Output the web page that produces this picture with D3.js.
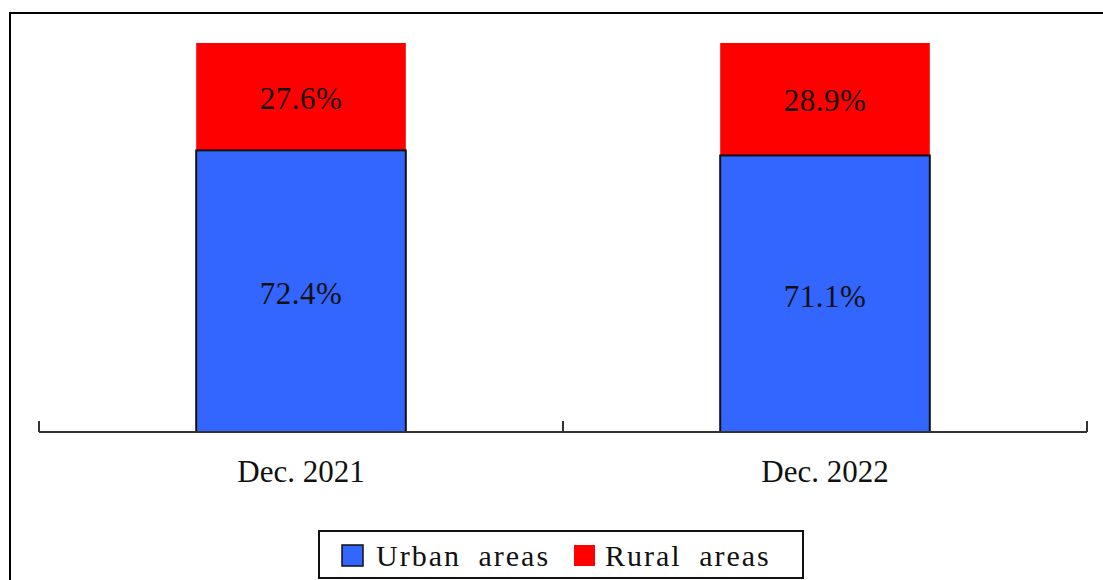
<!DOCTYPE html>
<html>
<head>
<meta charset="utf-8">
<script src="https://cdn.jsdelivr.net/npm/d3@7"></script>
<style>
  body { margin: 0; background: #fff; }
  svg text { font-family: "Liberation Serif", "DejaVu Serif", serif; fill: #111; }
</style>
</head>
<body>
<script>
// data
var categories = ["Dec. 2021", "Dec. 2022"];
var urban = [72.4, 71.1];
var rural = [27.6, 28.9];
var seriesNames = ["Urban areas", "Rural areas"];
var colors = ["#3366FF", "#FF0000"];

var W = 1103, H = 580;
var svg = d3.select("body").append("svg")
  .attr("width", W).attr("height", H);

// outer frame (runs off the right and bottom edge)
svg.append("rect")
  .attr("x", 10).attr("y", 13)
  .attr("width", 1200).attr("height", 700)
  .attr("fill", "none").attr("stroke", "#000").attr("stroke-width", 2);

var x = d3.scaleBand().domain(categories).range([39, 1087]);
var y = d3.scaleLinear().domain([0, 100]).range([432, 43]);
var bw = x.bandwidth() * 0.4;

var rows = categories.map(function(c, i) {
  return { cat: c, urban: urban[i], rural: rural[i] };
});

var g = svg.append("g");

// rural segment (top)
g.selectAll(".rural").data(rows).enter().append("rect")
  .attr("class", "rural")
  .attr("x", function(d) { return x(d.cat) + (x.bandwidth() - bw) / 2; })
  .attr("y", function(d) { return y(d.urban + d.rural); })
  .attr("width", bw)
  .attr("height", function(d) { return y(d.urban) - y(d.urban + d.rural); })
  .attr("fill", colors[1]);

// urban segment (bottom)
g.selectAll(".urban").data(rows).enter().append("rect")
  .attr("class", "urban")
  .attr("x", function(d) { return x(d.cat) + (x.bandwidth() - bw) / 2; })
  .attr("y", function(d) { return y(d.urban); })
  .attr("width", bw)
  .attr("height", function(d) { return y(0) - y(d.urban); })
  .attr("fill", colors[0])
  .attr("stroke", "#111").attr("stroke-width", 2);

// value labels
function label(cls, yv, txt) {
  g.selectAll("." + cls).data(rows).enter().append("text")
    .attr("class", cls)
    .attr("x", function(d) { return x(d.cat) + x.bandwidth() / 2; })
    .attr("y", yv)
    .attr("dy", "0.35em")
    .attr("text-anchor", "middle")
    .attr("font-size", 31)
    .attr("letter-spacing", 0.5)
    .text(txt);
}
label("lu", function(d) { return (y(d.urban) + y(0)) / 2 + 2; }, function(d) { return d.urban.toFixed(1) + "%"; });
label("lr", function(d) { return (y(d.urban + d.rural) + y(d.urban)) / 2 + 1; }, function(d) { return d.rural.toFixed(1) + "%"; });

// x axis: baseline with upward ticks at band edges
var axis = d3.axisBottom(x).tickSize(0).tickFormat("");
var ax = svg.append("g").attr("transform", "translate(0,432)").call(axis);
ax.select(".domain").attr("stroke", "#333").attr("stroke-width", 2).attr("d", "M39,0H1087");
var edges = [39].concat(categories.map(function(c) { return x(c) + x.bandwidth(); }));
ax.selectAll(".edge").data(edges).enter().append("line")
  .attr("x1", function(d) { return d; }).attr("x2", function(d) { return d; })
  .attr("y1", 0).attr("y2", -11)
  .attr("stroke", "#333").attr("stroke-width", 2);

svg.selectAll(".xl").data(categories).enter().append("text")
  .attr("x", function(d) { return x(d) + x.bandwidth() / 2; })
  .attr("y", 482)
  .attr("text-anchor", "middle")
  .attr("font-size", 31)
  .text(function(d) { return d; });

// legend
var lg = svg.append("g");
lg.append("rect").attr("x", 319).attr("y", 531).attr("width", 484).attr("height", 47)
  .attr("fill", "#fff").attr("stroke", "#111").attr("stroke-width", 2);
var items = [{ name: seriesNames[0], c: colors[0], sx: 342, tx: 376, stroke: "#111" },
             { name: seriesNames[1], c: colors[1], sx: 574, tx: 605, stroke: "none" }];
lg.selectAll(".sw").data(items).enter().append("rect")
  .attr("x", function(d) { return d.sx; }).attr("y", 545)
  .attr("width", 21).attr("height", 21)
  .attr("fill", function(d) { return d.c; })
  .attr("stroke", function(d) { return d.stroke; }).attr("stroke-width", 1.5);
lg.selectAll(".lt").data(items).enter().append("text")
  .attr("x", function(d) { return d.tx; }).attr("y", 566)
  .attr("font-size", 30)
  .attr("letter-spacing", 2)
  .attr("word-spacing", 8)
  .text(function(d) { return d.name; });
</script>
</body>
</html>
